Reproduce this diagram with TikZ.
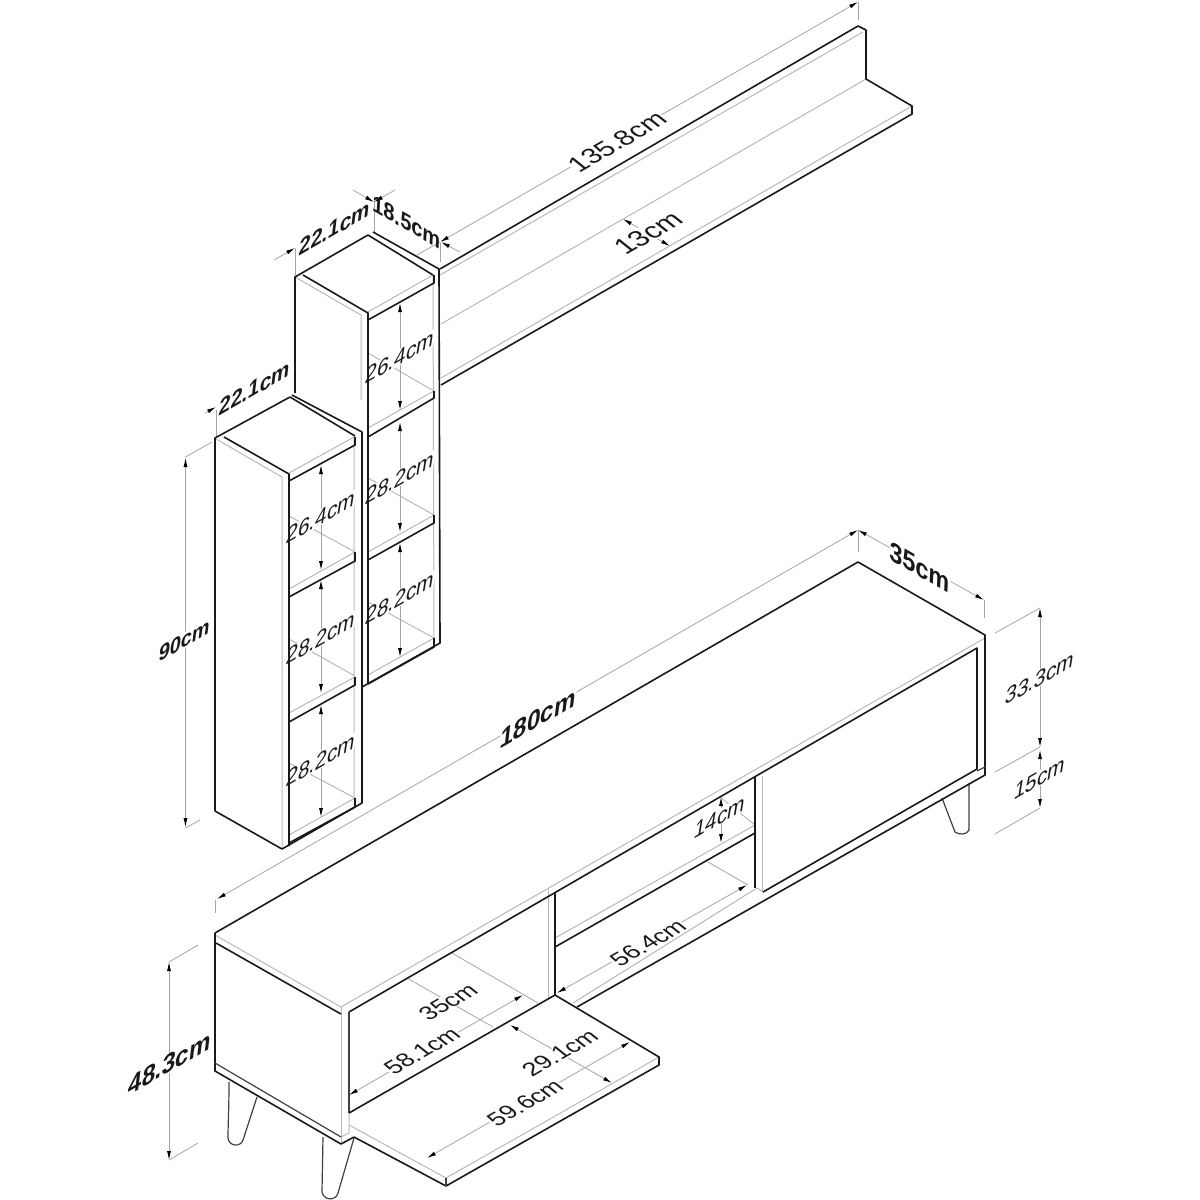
\documentclass[tikz,border=0pt]{standalone}
\usepackage{fontspec}
\setmainfont{Liberation Sans}
\usetikzlibrary{arrows.meta}
\tikzset{
  heavy/.style={line width=1.6pt,black!90,line join=round},
  medium/.style={line width=1.2pt,black!75,line join=round},
  faint/.style={line width=1pt,black!28},
  dimline/.style={line width=.8pt,black!35},
  dimboth/.style={dimline,{Latex[black,length=9pt,width=4pt]}-{Latex[black,length=9pt,width=4pt]}},
  dimone/.style={dimline,-{Latex[black,length=9pt,width=4pt]}},
  labelbase/.style={text=black!90,inner sep=.5pt},
  wallabel/.style={labelbase,fill=white,font=\fontsize{24}{24}\selectfont,cm={.866,.5,.16,.99,(0,0)}},
  floorlabel/.style={labelbase,fill=white,font=\fontsize{24}{24}\selectfont,cm={.866,.5,-.75,.6,(0,0)}},
  boldlabel/.style={labelbase,font=\fontsize{28}{28}\selectfont\bfseries,cm={.866,.5,.12,.99,(0,0)}},
  bolddown/.style={labelbase,font=\fontsize{23}{23}\selectfont\bfseries,cm={.866,-.5,.05,1,(0,0)}},
}
\begin{document}
\begin{tikzpicture}[x=1pt,y=-1pt]
\useasboundingbox (0,0) rectangle (1200,1200);
% grey edges
\draw[faint] (440,275) -- (863,32);
\draw[faint] (441,324) -- (866,79);
\draw[faint] (441,378) -- (912,106);
\draw[faint] (295,277) -- (361,315) -- (361,400);
\draw[faint] (368,312) -- (433,275) -- (434,638);
\foreach \ya/\yb in {428/391,552/515,675/638,353/391,478/515,602/638}{
  \draw[faint] (368,\ya) -- (434,\yb);
}
\draw[faint] (216,439) -- (282,477) -- (282,849);
\draw[faint] (289,473) -- (354,437) -- (354,798);
\foreach \ya/\yb in {589/552,713/677,835/798,516/552,639/676,763/798}{
  \draw[faint] (289,\ya) -- (355,\yb);
}
\draw[faint] (215,935) -- (341,1007) -- (985,638);
\draw[faint] (341,1007) -- (341,1144);
\draw[faint] (349,1113) -- (349,1133) -- (341,1137);
\draw[faint] (548,889) -- (548,998);
\draw[faint] (555,938) -- (755,825);
\draw[faint] (573,1003) -- (757,888) -- (763,892);
\draw[faint] (762,776) -- (762,892);
\draw[faint] (349,1125) -- (446,1178) -- (659,1057);
\draw[faint] (720,797) -- (755,825);
% dimensions
\draw[dimline] (215,900) -- (215,913);
\draw[dimboth] (217,899) -- (858,530);
\draw[dimline] (858,530) -- (858,552);
\draw[dimboth] (858,530) -- (984,600);
\draw[dimline] (984,600) -- (984,618);
\draw[dimboth] (1040,608) -- (1040,747);
\draw[dimboth] (1040,750) -- (1040,808);
\draw[dimline] (995,633) -- (1040,608);
\draw[dimline] (995,772) -- (1040,747);
\draw[dimline] (995,834) -- (1040,808);
\draw[dimboth] (721,797) -- (721,843);
\draw[dimboth] (169,962) -- (169,1160);
\draw[dimline] (198,945) -- (169,962);
\draw[dimline] (198,1143) -- (169,1160);
\draw[dimboth] (185.5,458) -- (185.5,827);
\draw[dimline] (212,442) -- (185.5,457);
\draw[dimline] (200,820) -- (185.5,828);
\draw[dimboth] (321,465) -- (321,570);
\draw[dimboth] (321,580) -- (321,693);
\draw[dimboth] (321,705) -- (321,817);
\draw[dimboth] (400,303) -- (400,410);
\draw[dimboth] (400,422) -- (400,532);
\draw[dimboth] (400,543) -- (400,657);
\draw[dimone] (274,260) -- (295,248);
\draw[dimone] (395,190) -- (374,202);
\draw[dimline] (295,248) -- (295,277);
\draw[dimline] (374,200) -- (374,232);
\draw[dimone] (353,190) -- (374,202);
\draw[dimone] (460,252) -- (441,242);
\draw[dimline] (440,243) -- (440,262);
\draw[dimline] (417,255) -- (440,242);
\draw[dimboth] (440,242) -- (858,2);
\draw[dimline] (858,2) -- (858,20);
\draw[dimboth] (623,219) -- (670,246);
\draw[dimone] (205,413) -- (216,407);
\draw[dimline] (216,410) -- (216,437);
\draw[dimboth] (427,1158) -- (630,1042);
\draw[dimboth] (510,1025) -- (612,1083);
\draw[dimboth] (349,1095) -- (523,995);
\draw[dimline] (407,978) -- (493,1027);
\draw[dimline] (452,953) -- (538,1003);
\draw[dimboth] (557,993) -- (747,885);
\draw[dimline] (708,862) -- (748,885);
% labels
\node[floorlabel,font=\fontsize{27}{27}\selectfont] (longtext) at (617,142) {135.8cm};
\node[floorlabel,font=\fontsize{28}{28}\selectfont] (shelftext) at (648,233) {13cm};
\node[wallabel] (reara) at (400,357) {26.4cm};
\node[wallabel] (rearb) at (400,478) {28.2cm};
\node[wallabel] (rearc) at (400,598) {28.2cm};
\node[wallabel] (fronta) at (321,517) {26.4cm};
\node[wallabel] (frontb) at (321,638) {28.2cm};
\node[wallabel] (frontc) at (321,760) {28.2cm};
\node[wallabel] (doorh) at (1040,678) {33.3cm};
\node[wallabel] (legh) at (1040,778) {15cm};
\node[wallabel] (openh) at (720,817) {14cm};
\node[boldlabel,font=\fontsize{24}{24}\selectfont\bfseries] (topw) at (335,228) {22.1cm};
\node[bolddown] (topd) at (407,222) {18.5cm};
\node[boldlabel,font=\fontsize{24}{24}\selectfont\bfseries] (frontw) at (255,388) {22.1cm};
\node[boldlabel,fill=white,font=\fontsize{23}{23}\selectfont\bfseries] (towerh) at (185,640) {90cm};
\node[boldlabel,fill=white] (unitw) at (538,718) {180cm};
\node[bolddown,fill=white,font=\fontsize{27}{27}\selectfont\bfseries] (unitd) at (920,567) {35cm};
\node[boldlabel,fill=white] (unith) at (170,1063) {48.3cm};
\node[floorlabel] (insided) at (448,1002) {35cm};
\node[floorlabel] (insidew) at (422,1051) {58.1cm};
\node[floorlabel] (midw) at (648,943) {56.4cm};
\node[floorlabel] (doord) at (560,1053) {29.1cm};
\node[floorlabel] (doorw) at (525,1103) {59.6cm};
% wall shelf
\draw[heavy] (440,269) -- (858,26) -- (866,30) -- (866,79) -- (912,106) -- (912,114) -- (441,385);
% rear tower
\foreach \ya/\yb/\yc in {320/283/275,437/398/391,560/523/515,684/647/638}{
  \draw[heavy] (368,\ya) -- (434,\yb) -- (434,\yc);
}
\draw[heavy] (295,393) -- (295,277) -- (368,235) -- (433,275);
\draw[heavy] (303,275) -- (368,313) -- (368,684);
\draw[heavy] (373,232) -- (439,269) -- (440,643) -- (362,687);
% front tower
\foreach \ya/\yb/\yc in {481/445/437,597/561/552,722/685/677,843/807/798}{
  \draw[heavy] (289,\ya) -- (355,\yb) -- (355,\yc);
}
\draw[heavy] (215,811) -- (215,438) -- (290,397);
\draw[heavy] (224,437) -- (289,474) -- (289,846);
\draw[heavy] (290,397) -- (355,436);
\draw[heavy] (292,395) -- (362,432) -- (362,803) -- (282,849) -- (215,811);
% legs
\draw[medium] (229,1082) .. controls (229,1110) and (228,1125) .. (228,1138)
  .. controls (229,1147) and (241,1147) .. (243,1140) -- (257,1097);
\draw[medium] (323,1137) -- (322,1192) .. controls (324,1201) and (336,1201) .. (338,1193) -- (354,1138);
\draw[medium] (942,798) -- (955,832) .. controls (959,835) and (967,835) .. (969,830) -- (969,783);
% tv unit
\draw[heavy] (215,933) -- (858,562) -- (985,635) -- (985,775) -- (577,1007);
\draw[medium] (985,767) -- (977,771);
\draw[heavy] (216,943) -- (341,1014);
\draw[heavy] (349,1012) -- (977,648) -- (977,769) -- (763,892);
\draw[heavy] (215,933) -- (215,1071) -- (341,1144) -- (354,1137);
\draw[medium] (215,1063) -- (341,1137);
\draw[medium] (349,1012) -- (349,1113);
\draw[heavy] (555,892) -- (555,995);
\draw[heavy] (555,947) -- (755,833);
\draw[heavy] (755,777) -- (755,888);
% open door
\draw[heavy] (349,1113) -- (555,995) -- (659,1057) -- (659,1065) -- (446,1186) -- (354,1137);
\draw[medium] (446,1178) -- (446,1186);
\end{tikzpicture}
\end{document}
